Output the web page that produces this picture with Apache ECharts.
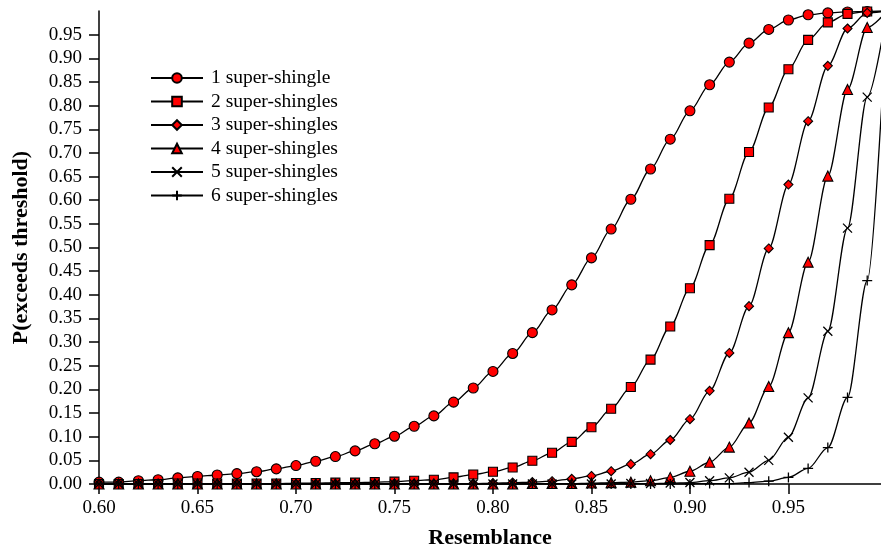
<!DOCTYPE html>
<html>
<head>
<meta charset="UTF-8">
<script src="https://cdnjs.cloudflare.com/ajax/libs/echarts/6.0.0/echarts.min.js"></script>
<style>
  body { margin: 0; background: #fff; }
  #chart { width: 881px; height: 550px; }
</style>
</head>
<body>
<div id="chart"></div>
<script>
// resemblance values (x); the 1.00 point lies just past the visible edge
const resemblance = [0.60, 0.61, 0.62, 0.63, 0.64, 0.65, 0.66, 0.67, 0.68, 0.69,
  0.70, 0.71, 0.72, 0.73, 0.74, 0.75, 0.76, 0.77, 0.78, 0.79,
  0.80, 0.81, 0.82, 0.83, 0.84, 0.85, 0.86, 0.87, 0.88, 0.89,
  0.90, 0.91, 0.92, 0.93, 0.94, 0.95, 0.96, 0.97, 0.98, 0.99, 1.00];

const seriesNames = ['1 super-shingle', '2 super-shingles', '3 super-shingles',
  '4 super-shingles', '5 super-shingles', '6 super-shingles'];

const oneShingle = [0.004, 0.004, 0.007, 0.009, 0.013, 0.016, 0.019, 0.022, 0.026, 0.032,
  0.039, 0.048, 0.058, 0.070, 0.085, 0.101, 0.122, 0.144, 0.173, 0.203,
  0.238, 0.276, 0.320, 0.368, 0.421, 0.478, 0.539, 0.602, 0.666, 0.729,
  0.789, 0.844, 0.892, 0.932, 0.961, 0.981, 0.992, 0.996, 0.998, 0.999, 1.0];

const twoShingles = [0, 0, 0, 0, 0.001, 0.001, 0.001, 0.001, 0.001, 0.001,
  0.002, 0.002, 0.003, 0.003, 0.004, 0.005, 0.007, 0.009, 0.014, 0.020,
  0.026, 0.035, 0.049, 0.066, 0.089, 0.120, 0.159, 0.205, 0.263, 0.333,
  0.414, 0.505, 0.603, 0.702, 0.796, 0.877, 0.939, 0.976, 0.994, 0.999, 1.0];

const threeShingles = [0, 0, 0, 0, 0, 0, 0, 0, 0, 0,
  0, 0, 0, 0, 0, 0.001, 0.001, 0.001, 0.001, 0.001,
  0.002, 0.003, 0.004, 0.006, 0.011, 0.017, 0.027, 0.042, 0.063, 0.093,
  0.137, 0.197, 0.277, 0.376, 0.498, 0.633, 0.767, 0.884, 0.963, 0.996, 1.0];

const fourShingles = [0, 0, 0, 0, 0, 0, 0, 0, 0, 0,
  0, 0, 0, 0, 0, 0, 0, 0, 0, 0,
  0, 0, 0.001, 0.001, 0.001, 0.002, 0.003, 0.004, 0.007, 0.014,
  0.027, 0.046, 0.078, 0.129, 0.206, 0.320, 0.469, 0.651, 0.834, 0.965, 1.0];

const fiveShingles = [0, 0, 0, 0, 0, 0, 0, 0, 0, 0,
  0, 0, 0, 0, 0, 0, 0, 0, 0, 0,
  0, 0, 0, 0, 0, 0, 0, 0.001, 0.001, 0.002,
  0.003, 0.007, 0.013, 0.025, 0.050, 0.099, 0.182, 0.323, 0.541, 0.818, 1.0];

const sixShingles = [0, 0, 0, 0, 0, 0, 0, 0, 0, 0,
  0, 0, 0, 0, 0, 0, 0, 0, 0, 0,
  0, 0, 0, 0, 0, 0, 0, 0, 0, 0,
  0, 0.001, 0.001, 0.003, 0.006, 0.014, 0.033, 0.077, 0.183, 0.430, 1.0];

const xTicks = [0.60, 0.65, 0.70, 0.75, 0.80, 0.85, 0.90, 0.95];
const yTicks = [0, 0.05, 0.10, 0.15, 0.20, 0.25, 0.30, 0.35, 0.40, 0.45,
  0.50, 0.55, 0.60, 0.65, 0.70, 0.75, 0.80, 0.85, 0.90, 0.95];

const FONT = 'Liberation Serif';
const crossPath = 'path://M0,0L10,10M10,0L0,10';
const plusPath = 'path://M5,0L5,10M0,5L10,5';

const symbols = [
  { symbol: 'circle', size: 10, fill: '#ff0000' },
  { symbol: 'rect', size: 9, fill: '#ff0000' },
  { symbol: 'diamond', size: 9, fill: '#ff0000' },
  { symbol: 'triangle', size: 10, fill: '#ff0000' },
  { symbol: crossPath, size: 9, fill: '#000' },
  { symbol: plusPath, size: 10, fill: '#000' }
];
const allValues = [oneShingle, twoShingles, threeShingles, fourShingles, fiveShingles, sixShingles];

const series = allValues.map((vals, k) => ({
  name: seriesNames[k],
  type: 'line',
  symbol: symbols[k].symbol,
  symbolSize: symbols[k].size,
  showAllSymbol: true,
  smooth: 0.3,
  smoothMonotone: 'x',
  clip: true,
  lineStyle: { color: '#000', width: 1.3 },
  itemStyle: { color: symbols[k].fill, borderColor: '#000', borderWidth: k >= 4 ? 1.3 : 1.1 },
  emphasis: { disabled: true },
  data: vals.map((v, i) => {
    const item = { value: [resemblance[i], v] };
    if (resemblance[i] >= 1) item.symbol = 'none';
    return item;
  })
}));

const chart = echarts.init(document.getElementById('chart'));
chart.setOption({
  animation: false,
  grid: { left: 99, right: 0, top: 11, bottom: 66, outerBoundsMode: 'none', containLabel: false },
  legend: {
    orient: 'vertical',
    left: 145,
    top: 63,
    itemWidth: 52,
    itemHeight: 12,
    itemGap: 3.5,
    data: seriesNames,
    textStyle: { fontFamily: FONT, fontSize: 19.5, lineHeight: 20, color: '#000', padding: [0, 0, 0, 3] }
  },
  xAxis: {
    type: 'value',
    min: 0.6,
    max: 0.997,
    name: 'Resemblance',
    nameLocation: 'middle',
    nameGap: 43,
    nameTextStyle: { fontFamily: FONT, fontSize: 22, fontWeight: 'bold', color: '#000' },
    axisLine: { lineStyle: { color: '#000', width: 1.5 } },
    axisTick: { length: 10, customValues: xTicks, lineStyle: { color: '#000', width: 1.5 } },
    axisLabel: {
      fontFamily: FONT, fontSize: 19, color: '#000', margin: 15,
      customValues: xTicks,
      formatter: v => v.toFixed(2)
    },
    splitLine: { show: false }
  },
  yAxis: {
    type: 'value',
    min: 0,
    max: 1,
    interval: 0.05,
    name: 'P(exceeds threshold)',
    nameLocation: 'middle',
    nameGap: 67,
    nameTextStyle: { fontFamily: FONT, fontSize: 22, fontWeight: 'bold', color: '#000' },
    axisLine: { show: true, lineStyle: { color: '#000', width: 1.5 } },
    axisTick: { show: true, length: 10, customValues: yTicks, lineStyle: { color: '#000', width: 1.5 } },
    axisLabel: {
      fontFamily: FONT, fontSize: 19, color: '#000', margin: 17,
      customValues: yTicks,
      formatter: v => v.toFixed(2)
    },
    splitLine: { show: false }
  },
  series: series
});
</script>
</body>
</html>
